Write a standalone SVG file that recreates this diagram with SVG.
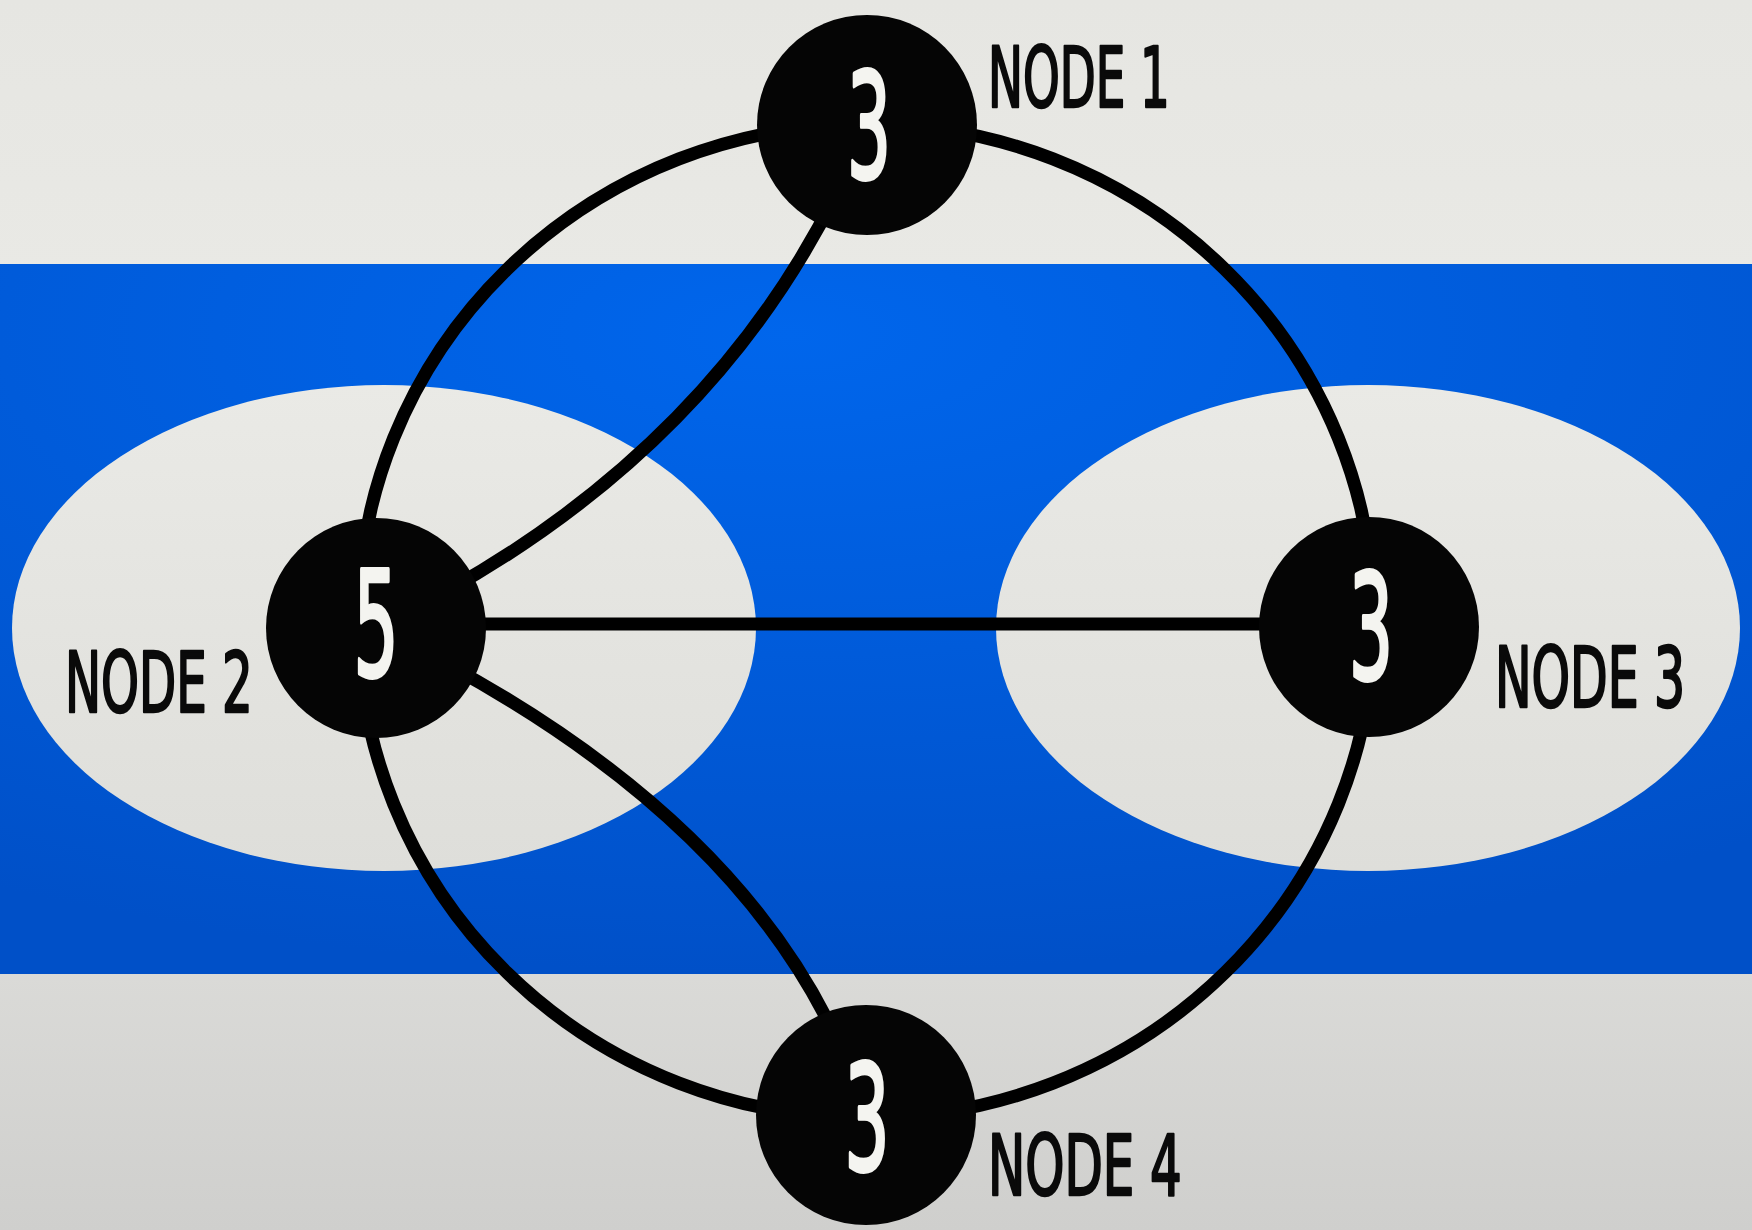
<svg xmlns="http://www.w3.org/2000/svg" width="1752" height="1230" viewBox="0 0 1752 1230">
  <defs>
    <linearGradient id="paper" x1="0" y1="0" x2="0" y2="1">
      <stop offset="0" stop-color="#E6E6E2"/>
      <stop offset="0.45" stop-color="#ECECE8"/>
      <stop offset="1" stop-color="#CFCFCD"/>
    </linearGradient>
    <radialGradient id="band" cx="0.45" cy="0.1" r="0.9">
      <stop offset="0" stop-color="#0066EC"/>
      <stop offset="1" stop-color="#0050C8"/>
    </radialGradient>
    <linearGradient id="oval" x1="0" y1="0" x2="0" y2="1">
      <stop offset="0" stop-color="#EAEAE6"/>
      <stop offset="1" stop-color="#DEDEDA"/>
    </linearGradient>
    <style>
      .edge { fill: none; stroke: #000; stroke-width: 13; stroke-linecap: round; }
      .dot { fill: #050505; }
      .num { fill: #F4F4F0; stroke: #F4F4F0; stroke-width: 4; stroke-linejoin: round; font-family: "DejaVu Sans", "Liberation Sans", sans-serif; font-stretch: condensed; font-size: 146px; text-anchor: middle; }
      .label { fill: #0A0A0A; stroke: #0A0A0A; stroke-width: 2.5; stroke-linejoin: round; font-family: "DejaVu Sans", "Liberation Sans", sans-serif; font-stretch: condensed; font-size: 84px; }
    </style>
  </defs>

  <!-- backdrop: grey paper, blue band and two pale ovals -->
  <rect x="0" y="0" width="1752" height="1230" fill="url(#paper)"/>
  <rect x="0" y="264" width="1752" height="710" fill="url(#band)"/>
  <ellipse cx="384" cy="628" rx="372" ry="243" fill="url(#oval)"/>
  <ellipse cx="1368" cy="628" rx="372" ry="243" fill="url(#oval)"/>

  <!-- connectors -->
  <g id="connectors">
    <ellipse class="edge" cx="866" cy="621" rx="508" ry="497"/>
    <path class="edge" d="M376 628 Q735 455 867 125"/>
    <path class="edge" d="M376 628 Q775 820 866 1115"/>
    <line class="edge" x1="376" y1="624" x2="1369" y2="624"/>
  </g>

  <!-- nodes; glyphs are narrowed with a horizontal scale -->
  <g id="node1">
    <circle class="dot" cx="867" cy="125" r="110"/>
    <text class="num" transform="translate(869 178) scale(0.5 1)" textLength="88" lengthAdjust="spacingAndGlyphs">3</text>
    <text class="label" transform="translate(988 107) scale(0.6 1)" textLength="303" lengthAdjust="spacingAndGlyphs">NODE 1</text>
  </g>
  <g id="node2">
    <circle class="dot" cx="376" cy="628" r="110"/>
    <text class="num" transform="translate(376 676) scale(0.5 1)" textLength="90" lengthAdjust="spacingAndGlyphs">5</text>
    <text class="label" transform="translate(65 712) scale(0.6 1)" textLength="313" lengthAdjust="spacingAndGlyphs">NODE 2</text>
  </g>
  <g id="node3">
    <circle class="dot" cx="1369" cy="627" r="110"/>
    <text class="num" transform="translate(1371 679) scale(0.5 1)" textLength="88" lengthAdjust="spacingAndGlyphs">3</text>
    <text class="label" transform="translate(1495 707) scale(0.6 1)" textLength="317" lengthAdjust="spacingAndGlyphs">NODE 3</text>
  </g>
  <g id="node4">
    <circle class="dot" cx="866" cy="1115" r="110"/>
    <text class="num" transform="translate(867 1170) scale(0.5 1)" textLength="90" lengthAdjust="spacingAndGlyphs">3</text>
    <text class="label" transform="translate(988 1195) scale(0.6 1)" textLength="323" lengthAdjust="spacingAndGlyphs">NODE 4</text>
  </g>
</svg>
